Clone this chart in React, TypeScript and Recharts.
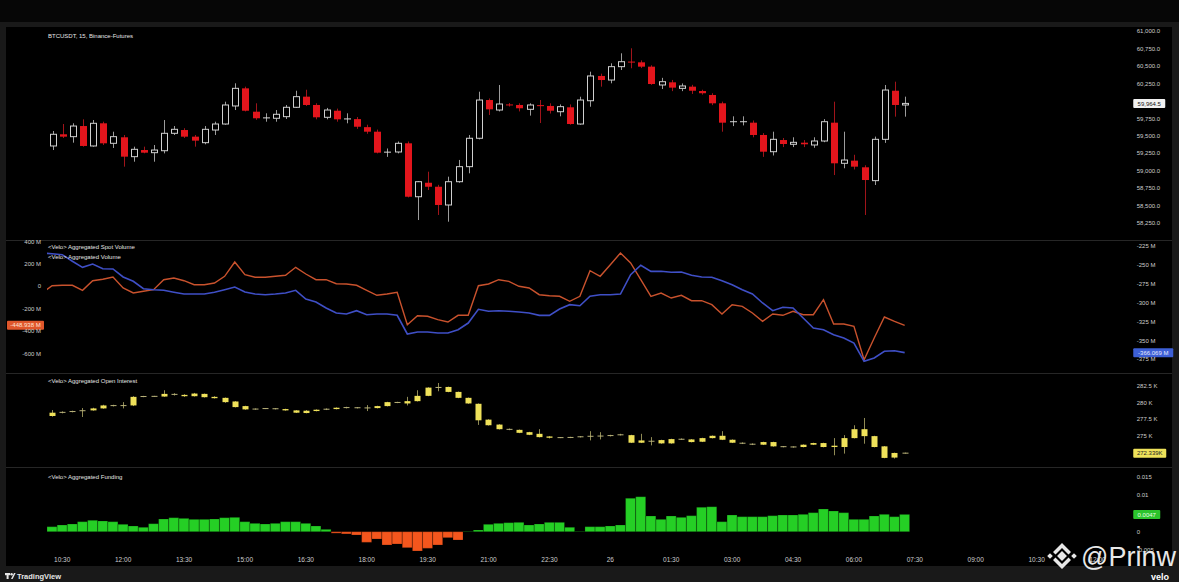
import React from "react";
import { ComposedChart, Bar, Line, XAxis, YAxis, ReferenceLine, Cell } from "recharts";

const FONT = "'Liberation Sans', Arial, sans-serif";
const W = 1179;
const AXIS_L = 47;
const AXIS_R = 66.25;
const X_DOMAIN: [number, number] = [-0.5, 104.5];

// 15m slots, slot 0 = 10:15
const tickSlots = [1, 7, 13, 19, 25, 31, 37, 43, 49, 55, 61, 67, 73, 79, 85, 91, 97, 103];
const tickLabels = ["10:30", "12:00", "13:30", "15:00", "16:30", "18:00", "19:30", "21:00", "22:30", "26", "01:30", "03:00", "04:30", "06:00", "07:30", "09:00", "10:30", "12:00"];

// BTCUSDT 15m [open, high, low, close]
const priceCandles = [
  [59356, 59570, 59298, 59523], [59523, 59670, 59470, 59489], [59489, 59680, 59403, 59641], [59641, 59737, 59346, 59356],
  [59356, 59727, 59346, 59680], [59680, 59703, 59370, 59394], [59394, 59560, 59327, 59489], [59480, 59513, 59060, 59203],
  [59203, 59346, 59131, 59308], [59298, 59346, 59251, 59260], [59260, 59370, 59131, 59298], [59288, 59727, 59250, 59537],
  [59537, 59641, 59513, 59594], [59584, 59610, 59470, 59489], [59489, 59513, 59346, 59432], [59403, 59641, 59380, 59594],
  [59584, 59703, 59513, 59670], [59670, 59989, 59660, 59942], [59928, 60252, 59870, 60180], [60180, 60204, 59850, 59860],
  [59846, 59966, 59730, 59752], [59755, 59823, 59703, 59760], [59752, 59870, 59703, 59809], [59775, 59942, 59742, 59909],
  [59909, 60146, 59899, 60061], [60061, 60160, 59928, 59942], [59942, 59966, 59737, 59766], [59766, 59900, 59737, 59870],
  [59860, 59890, 59703, 59737], [59740, 59823, 59680, 59745], [59740, 59770, 59600, 59631], [59625, 59660, 59530, 59560],
  [59560, 59590, 59250, 59260], [59265, 59320, 59200, 59270], [59270, 59420, 59250, 59394], [59394, 59420, 58620, 58630],
  [58630, 58855, 58297, 58845], [58830, 58988, 58726, 58773], [58773, 58800, 58369, 58512], [58512, 58917, 58273, 58845],
  [58845, 59156, 58830, 59060], [59060, 59513, 58965, 59466], [59466, 60132, 59450, 60013], [60013, 60035, 59799, 59880],
  [59870, 60228, 59850, 59956], [59945, 59970, 59920, 59940], [59942, 59966, 59850, 59895], [59880, 59966, 59790, 59942],
  [59935, 60013, 59684, 59930], [59928, 59966, 59820, 59860], [59846, 59950, 59780, 59918], [59909, 59950, 59660, 59670],
  [59670, 60060, 59660, 60013], [60003, 60418, 59917, 60357], [60357, 60390, 60204, 60299], [60299, 60538, 60252, 60490],
  [60490, 60681, 60442, 60561], [60561, 60753, 60467, 60550], [60552, 60580, 60470, 60490], [60490, 60510, 60230, 60242],
  [60228, 60330, 60170, 60275], [60266, 60300, 60140, 60190], [60180, 60250, 60140, 60214], [60204, 60230, 60100, 60146],
  [60142, 60160, 60090, 60110], [60085, 60110, 59940, 59966], [59966, 59990, 59560, 59689], [59700, 59780, 59640, 59705],
  [59700, 59780, 59650, 59705], [59689, 59720, 59480, 59513], [59513, 59540, 59200, 59274], [59274, 59560, 59220, 59451],
  [59441, 59470, 59340, 59384], [59380, 59480, 59340, 59408], [59403, 59440, 59340, 59380], [59370, 59480, 59330, 59427],
  [59427, 59740, 59410, 59703], [59689, 59989, 58940, 59108], [59108, 59560, 59037, 59155], [59146, 59230, 59020, 59060],
  [59051, 59080, 58369, 58869], [58860, 59490, 58798, 59451], [59451, 60228, 59400, 60156], [60146, 60275, 59775, 59942],
  [59942, 60061, 59775, 59964.5],
];

// first value is the bar before 10:15 (M)
const spotVolume = [
  -59.8, 5.4, 8.9, 8.9, -35.7, 50, 62.5, 83, -15.2, -59.8, -44.6, -30.4, 58.9, 74.1, 50, 14.3, 14.3, 29.5, 89.3, 217,
  103.6, 80.4, 80.4, 89.3, 98.2, 169.6, 109.8, 58.9, 58.9, 23.2, 20.5, 8.9, -35.7, -80.4, -68.8, -53.6, -342.9, -262.5,
  -267.9, -298.2, -318.8, -258.9, -258.9, 5.4, 20.5, 58.9, 44.6, 0, -15.2, -75, -83.9, -89.3, -133.9, -89.3, 139.3, 89.3,
  192.9, 297.3, 208, 58.9, -89.3, -59.8, -104.5, -80.4, -128.6, -128.6, -164.3, -247.3, -164.3, -178.6, -238.4, -312.5,
  -247.3, -258.9, -223.2, -253.6, -253.6, -119.6, -336.6, -336.6, -357.1, -655.4, -461.6, -274.1, -312.5, -348.2,
];
const aggVolume = [
  -234.3, -235.2, -236.5, -245.2, -253.2, -248.8, -255.0, -255.4, -266.0, -271.7, -281.5, -282.8, -283.6, -286.2, -288.5,
  -288.5, -288.5, -286.2, -282.8, -279.2, -285.8, -288.5, -289.4, -288.5, -287.2, -283.6, -295.1, -299.1, -307.0, -313.6,
  -315.0, -310.6, -315.9, -315.0, -315.0, -316.7, -341.4, -338.8, -338.8, -340.1, -340.1, -335.7, -326.9, -308.7, -311.4,
  -310.6, -311.4, -312.3, -313.6, -316.7, -316.7, -308.3, -302.6, -304.0, -291.5, -289.4, -289.4, -288.5, -263.0, -250.5,
  -258.5, -258.5, -259.8, -259.4, -263.8, -266.0, -266.4, -270.9, -276.2, -282.8, -288.5, -300.4, -310.6, -306.1, -307.0,
  -320.2, -333.5, -335.7, -342.3, -346.7, -353.3, -377.5, -373.2, -364.3, -363.5, -366.069,
];

// open interest (K) [open, high, low, close]
const oiCandles = [
  [278.0, 278.9, 277.9, 278.5], [278.5, 278.7, 278.4, 278.6], [278.6, 278.8, 278.55, 278.75], [278.75, 279.2, 277.85, 278.85],
  [278.85, 279.25, 278.8, 279.15], [279.15, 279.7, 279.1, 279.6], [279.6, 279.7, 279.45, 279.55], [279.55, 280.1, 279.15, 279.6],
  [279.6, 281.0, 279.5, 280.9], [280.9, 281.05, 280.85, 281.0], [281.0, 281.05, 280.9, 280.95], [280.95, 281.9, 280.9, 281.35],
  [281.35, 281.45, 281.1, 281.2], [281.2, 281.3, 280.9, 281.0], [281.0, 281.5, 280.95, 281.4], [281.35, 281.4, 280.8, 280.85],
  [280.9, 281.0, 280.65, 280.7], [280.75, 280.8, 280.0, 280.1], [280.2, 280.25, 279.3, 279.35], [279.5, 279.55, 278.95, 279.0],
  [279.0, 279.15, 278.95, 279.1], [279.1, 279.2, 279.05, 279.15], [279.15, 279.2, 279.0, 279.05], [279.05, 279.1, 278.8, 278.85],
  [278.85, 278.9, 278.45, 278.5], [278.45, 278.9, 278.4, 278.8], [278.75, 279.0, 278.7, 278.95], [278.95, 279.15, 278.9, 279.1],
  [279.05, 279.3, 279.0, 279.25], [279.2, 279.4, 279.15, 279.35], [279.3, 279.35, 279.15, 279.2], [279.2, 279.65, 278.75, 279.25],
  [279.2, 279.55, 279.15, 279.5], [279.5, 280.15, 279.45, 280.1], [280.1, 280.15, 279.95, 280.0], [279.9, 280.9, 279.6, 280.25],
  [280.25, 281.9, 280.2, 281.05], [281.05, 282.35, 281.0, 282.3], [282.3, 283.0, 281.75, 282.35], [282.4, 282.45, 281.6, 281.65],
  [281.65, 281.7, 280.7, 280.75], [280.75, 280.8, 279.85, 279.9], [279.85, 279.9, 276.65, 277.35], [277.45, 277.5, 276.55, 276.6],
  [276.7, 276.75, 275.95, 276.0], [276.05, 276.1, 275.85, 275.9], [275.9, 275.95, 275.4, 275.45], [275.55, 275.6, 275.1, 275.15],
  [275.3, 276.0, 274.75, 274.8], [274.9, 274.95, 274.6, 274.7], [274.75, 274.8, 274.65, 274.7], [274.7, 274.85, 274.65, 274.8],
  [274.8, 274.95, 274.75, 274.9], [274.9, 275.7, 274.3, 274.95], [274.95, 275.55, 274.45, 274.97], [274.97, 275.15, 274.9, 275.1],
  [275.1, 275.3, 275.05, 275.2], [275.1, 275.15, 273.9, 273.95], [273.95, 275.3, 273.9, 274.3], [274.2, 274.8, 273.55, 274.15],
  [274.35, 274.4, 273.8, 273.85], [273.85, 274.55, 273.8, 274.5], [274.5, 274.6, 274.4, 274.45], [274.45, 274.5, 274.0, 274.05],
  [274.1, 274.7, 274.05, 274.65], [274.65, 275.05, 274.6, 275.0], [275.0, 275.7, 274.35, 274.4], [274.4, 274.45, 273.9, 273.95],
  [273.95, 274.0, 273.75, 273.8], [273.8, 273.85, 273.6, 273.65], [273.65, 274.1, 273.6, 274.05], [274.05, 274.1, 273.35, 273.4],
  [273.4, 273.45, 273.25, 273.3], [273.3, 273.4, 273.2, 273.32], [273.3, 273.7, 273.25, 273.65], [273.65, 273.95, 273.6, 273.9],
  [273.9, 273.95, 273.25, 273.3], [273.3, 274.65, 272.05, 273.5], [273.3, 275.1, 272.3, 274.65], [274.65, 276.6, 274.6, 276.0],
  [276.0, 277.7, 273.8, 274.95], [274.95, 275.0, 273.25, 273.3], [273.4, 273.45, 271.6, 271.65], [271.7, 272.45, 271.55, 272.4],
  [272.4, 272.45, 272.3, 272.339],
];

const funding = [
  0.00136, 0.00182, 0.00209, 0.00272, 0.0031, 0.00291, 0.00272, 0.00201, 0.00155, 0.0012,
  0.00217, 0.00345, 0.0038, 0.00362, 0.00336, 0.00336, 0.00345, 0.0038, 0.0039, 0.00272,
  0.00227, 0.00209, 0.00227, 0.00272, 0.00272, 0.00227, 0.00155, 0.00064, -0.0004, -0.0006,
  -0.0009, -0.00289, -0.00198, -0.00361, -0.00334, -0.00435, -0.00524, -0.00452, -0.00361, -0.00163,
  -0.00226, 0.0001, 0.00046, 0.00201, 0.00227, 0.00245, 0.00254, 0.00182, 0.00209, 0.00254,
  0.00254, 0.0012, 0.0001, 0.00136, 0.00136, 0.00155, 0.00182, 0.00907, 0.00951, 0.00427,
  0.00336, 0.00427, 0.0039, 0.00435, 0.00662, 0.0068, 0.00272, 0.00454, 0.00408, 0.00408,
  0.00408, 0.00435, 0.00454, 0.00454, 0.00472, 0.00517, 0.00617, 0.00562, 0.00517, 0.00336,
  0.00336, 0.00427, 0.00472, 0.00408, 0.0047,
];

// ticks hidden behind the last-value tags are left out
const priceTicks = [58250, 58500, 58750, 59000, 59250, 59500, 59750, 60250, 60500, 60750, 61000];
const spotTicks = [-600, -400, -200, 0, 200, 400];
const aggTicks = [-375, -350, -325, -300, -275, -250, -225];
const oiTicks = [275, 277.5, 280, 282.5];
const fundingTicks = [-0.005, 0, 0.01, 0.015];

const priceRows = priceCandles.map(([o, h, l, c], i) => ({ i, o, h, l, c }));
const oiRows = oiCandles.map(([o, h, l, c], i) => ({ i, o, h, l, c }));
const volumeRows = spotVolume.map((s, k) => ({ i: k - 1, s, a: aggVolume[k] }));
const fundingRows = funding.map((f, i) => ({ i, f }));

const axisText = { fill: "#cdcdcd", fontSize: 6, fontFamily: FONT };
const fmtPrice = (v: number) => v.toLocaleString("en-US", { minimumFractionDigits: 1, maximumFractionDigits: 1 });

function YTick(props: any) {
  const { x, y, payload, textAnchor, fmt } = props;
  return (
    <text x={x} y={y} dy="0.35em" textAnchor={textAnchor} {...axisText}>
      {fmt(payload.value)}
    </text>
  );
}

function XTick(props: any) {
  const { x, y, payload } = props;
  return (
    <text x={x} y={y} dy="0.71em" textAnchor="middle" {...axisText} fontSize={6.5}>
      {tickLabels[tickSlots.indexOf(payload.value)]}
    </text>
  );
}

function candleGeom(props: any) {
  const { x, y, width, height, payload } = props;
  const { o, h, l, c } = payload;
  const top = Math.min(y, y + height);
  const k = h > l ? Math.abs(height) / (h - l) : 0;
  const at = (v: number) => top + (h - v) * k;
  return { cx: Math.round(x + width / 2) + 0.5, at, o, h, l, c };
}

function PriceCandle(props: any) {
  if (!props.payload || !Number.isFinite(props.x)) return null;
  const { cx, at, o, h, l, c } = candleGeom(props);
  const bull = c >= o;
  const yTop = at(Math.max(o, c));
  const yBot = at(Math.min(o, c));
  const bw = 7;
  return (
    <g>
      <line x1={cx} x2={cx} y1={at(h)} y2={at(l)} stroke={bull ? "#9c9c9c" : "#a0141a"} strokeWidth={1} />
      {yBot - yTop < 1.5 ? (
        <line x1={cx - bw / 2} x2={cx + bw / 2} y1={(yTop + yBot) / 2} y2={(yTop + yBot) / 2} stroke={bull ? "#d6d6d6" : "#e3151c"} strokeWidth={1} />
      ) : bull ? (
        <rect x={cx - bw / 2 + 0.5} y={yTop} width={bw - 1} height={yBot - yTop} fill="#000" stroke="#cfcfcf" strokeWidth={1} />
      ) : (
        <rect x={cx - bw / 2} y={yTop} width={bw} height={yBot - yTop} fill="#e3151c" />
      )}
    </g>
  );
}

function OiCandle(props: any) {
  if (!props.payload || !Number.isFinite(props.x)) return null;
  const { cx, at, o, h, l, c } = candleGeom(props);
  const yTop = at(Math.max(o, c));
  const yBot = at(Math.min(o, c));
  const bw = 6;
  return (
    <g>
      <line x1={cx} x2={cx} y1={at(h)} y2={at(l)} stroke="#8f8a55" strokeWidth={1} />
      {yBot - yTop < 1.3 ? (
        <line x1={cx - bw / 2} x2={cx + bw / 2} y1={(yTop + yBot) / 2} y2={(yTop + yBot) / 2} stroke="#b9b27a" strokeWidth={1} />
      ) : (
        <rect x={cx - bw / 2} y={yTop} width={bw} height={yBot - yTop} fill="#efe15a" />
      )}
    </g>
  );
}

function tag(side: "left" | "right", text: string, w: number, fill: string, color: string) {
  return (props: any) => {
    const vb = props.viewBox;
    if (!vb) return null;
    const x0 = side === "right" ? vb.x + vb.width + 20.5 : 7;
    return (
      <g>
        <rect x={x0} y={vb.y - 4.5} width={w} height={9} rx={1} fill={fill} />
        <text x={x0 + w / 2} y={vb.y} dy="0.35em" textAnchor="middle" fontSize={6} fontFamily={FONT} fill={color}>
          {text}
        </text>
      </g>
    );
  };
}

const hiddenX = <XAxis dataKey="i" type="number" domain={X_DOMAIN} allowDataOverflow hide />;
const rightAxis = { orientation: "right" as const, width: AXIS_R, allowDataOverflow: true, interval: 0, tickLine: false, axisLine: false, tickSize: 0, tickMargin: 24 };

export default function App() {
  return (
    <div style={{ position: "fixed", left: 0, top: 0, width: W, height: 582, background: "#060606", overflow: "hidden", fontFamily: FONT }}>
      <div style={{ position: "absolute", left: 0, top: 22, width: W, height: 560, background: "#191919" }} />
      <div style={{ position: "absolute", left: 6, top: 27, width: 1166, height: 539, background: "#000" }} />
      <svg width={W} height={582} style={{ position: "absolute", left: 0, top: 0 }}>
        {[240, 373, 467].map((y) => (
          <line key={y} x1={6} x2={1172} y1={y + 0.5} y2={y + 0.5} stroke="#262626" />
        ))}
      </svg>

      <div style={{ position: "absolute", left: 0, top: 25 }}>
        <ComposedChart width={W} height={215} data={priceRows} margin={{ top: 0, right: 0, bottom: 0, left: AXIS_L }}>
          {hiddenX}
          <YAxis yAxisId="p" {...rightAxis} domain={[58011.3, 61085.8]} ticks={priceTicks} tick={<YTick fmt={fmtPrice} />} />
          <Bar yAxisId="p" dataKey={(d: any) => [d.l, d.h]} barSize={7} shape={<PriceCandle />} isAnimationActive={false} />
          <ReferenceLine yAxisId="p" y={59964.5} strokeOpacity={0} ifOverflow="visible"
            label={tag("right", "59,964.5", 32, "#f1f1f1", "#111")} />
        </ComposedChart>
      </div>

      <div style={{ position: "absolute", left: 0, top: 240 }}>
        <ComposedChart width={W} height={133} data={volumeRows} margin={{ top: 0, right: 0, bottom: 0, left: 0 }}>
          {hiddenX}
          <YAxis yAxisId="spot" orientation="left" width={AXIS_L} domain={[-774.1, 413.4]} allowDataOverflow ticks={spotTicks} interval={0}
            tick={<YTick fmt={(v: number) => (v === 0 ? "0" : `${v} M`)} />} tickLine={false} axisLine={false} tickSize={0} tickMargin={6} />
          <YAxis yAxisId="agg" {...rightAxis} domain={[-392.99, -217.06]} ticks={aggTicks} tick={<YTick fmt={(v: number) => `${v} M`} />} />
          <Line yAxisId="spot" dataKey="s" stroke="#c9522d" strokeWidth={1.4} dot={false} isAnimationActive={false} />
          <Line yAxisId="agg" dataKey="a" stroke="#3f4fc6" strokeWidth={1.6} dot={false} isAnimationActive={false} />
          <ReferenceLine yAxisId="spot" y={spotVolume[spotVolume.length - 1]} strokeOpacity={0} ifOverflow="visible"
            label={tag("left", "-448.938 M", 37, "#df562b", "#ffe2d6")} />
          <ReferenceLine yAxisId="agg" y={aggVolume[aggVolume.length - 1]} strokeOpacity={0} ifOverflow="visible"
            label={tag("right", "-366.069 M", 40, "#3d5fd6", "#e4e9ff")} />
        </ComposedChart>
      </div>

      <div style={{ position: "absolute", left: 0, top: 373 }}>
        <ComposedChart width={W} height={94} data={oiRows} margin={{ top: 0, right: 0, bottom: 0, left: AXIS_L }}>
          {hiddenX}
          <YAxis yAxisId="oi" {...rightAxis} domain={[270.272, 284.515]} ticks={oiTicks} tick={<YTick fmt={(v: number) => `${v} K`} />} />
          <Bar yAxisId="oi" dataKey={(d: any) => [d.l, d.h]} barSize={6} shape={<OiCandle />} isAnimationActive={false} />
          <ReferenceLine yAxisId="oi" y={272.339} strokeOpacity={0} ifOverflow="visible"
            label={tag("right", "272.339K", 33, "#eee25a", "#222")} />
        </ComposedChart>
      </div>

      <div style={{ position: "absolute", left: 0, top: 467 }}>
        <ComposedChart width={W} height={99} data={fundingRows} margin={{ top: 0, right: 0, bottom: 0, left: AXIS_L }}>
          <XAxis dataKey="i" type="number" domain={X_DOMAIN} allowDataOverflow ticks={tickSlots} interval={0} height={13}
            tick={<XTick />} tickLine={false} axisLine={false} tickSize={0} tickMargin={4} />
          <YAxis yAxisId="f" {...rightAxis} domain={[-0.005788, 0.017582]} ticks={fundingTicks} tick={<YTick fmt={(v: number) => String(v)} />} />
          <Bar yAxisId="f" dataKey="f" barSize={10} isAnimationActive={false} stroke="rgba(0,0,0,0.35)" strokeWidth={0.6}>
            {fundingRows.map((r) => (
              <Cell key={r.i} fill={r.f >= 0 ? "#25cf25" : "#f4561d"} />
            ))}
          </Bar>
          <ReferenceLine yAxisId="f" y={funding[funding.length - 1]} strokeOpacity={0} ifOverflow="visible"
            label={tag("right", "0.0047", 27, "#2cc42c", "#eaffea")} />
        </ComposedChart>
      </div>

      <svg width={W} height={582} style={{ position: "absolute", left: 0, top: 0, pointerEvents: "none" }}>
        <g fontFamily={FONT} fontSize={6} fill="#e4e4e4">
          <text x={48} y={38.2}>BTCUSDT, 15, Binance-Futures</text>
          <text x={48} y={249.2}>{"<Velo> Aggregated Spot Volume"}</text>
          <text x={48} y={259.2}>{"<Velo> Aggregated Volume"}</text>
          <text x={48} y={383.2}>{"<Velo> Aggregated Open Interest"}</text>
          <text x={48} y={479.2}>{"<Velo> Aggregated Funding"}</text>
        </g>
        <g fill="#e6e6e6">
          <rect x={5} y={573} width={5} height={2.2} />
          <rect x={6.6} y={573} width={2} height={6} />
          <circle cx={11.6} cy={574.2} r={1.2} />
          <polygon points="11,579 14,573 15.6,573 12.6,579" />
          <text x={17} y={579.2} fontSize={7.5} fontWeight={700} fontFamily={FONT}>TradingView</text>
          <text x={1151} y={580} fontSize={9} fontWeight={700} fontFamily={FONT} fill="#fff">velo</text>
        </g>
        <g fill="#f4f4f4" opacity={0.95}>
          <rect x={1058.5} y={552.5} width={7} height={7} transform="rotate(45 1062 556)" />
          <rect x={1048} y={554} width={4} height={4} transform="rotate(45 1050 556)" />
          <rect x={1072} y={554} width={4} height={4} transform="rotate(45 1074 556)" />
          <polygon points="1062,543 1071,552 1068.5,554.5 1062,548 1055.5,554.5 1053,552" />
          <polygon points="1062,569 1071,560 1068.5,557.5 1062,564 1055.5,557.5 1053,560" />
          <text x={1081} y={566} fontSize={27} fontFamily={FONT}>@Prinw</text>
        </g>
      </svg>
    </div>
  );
}
